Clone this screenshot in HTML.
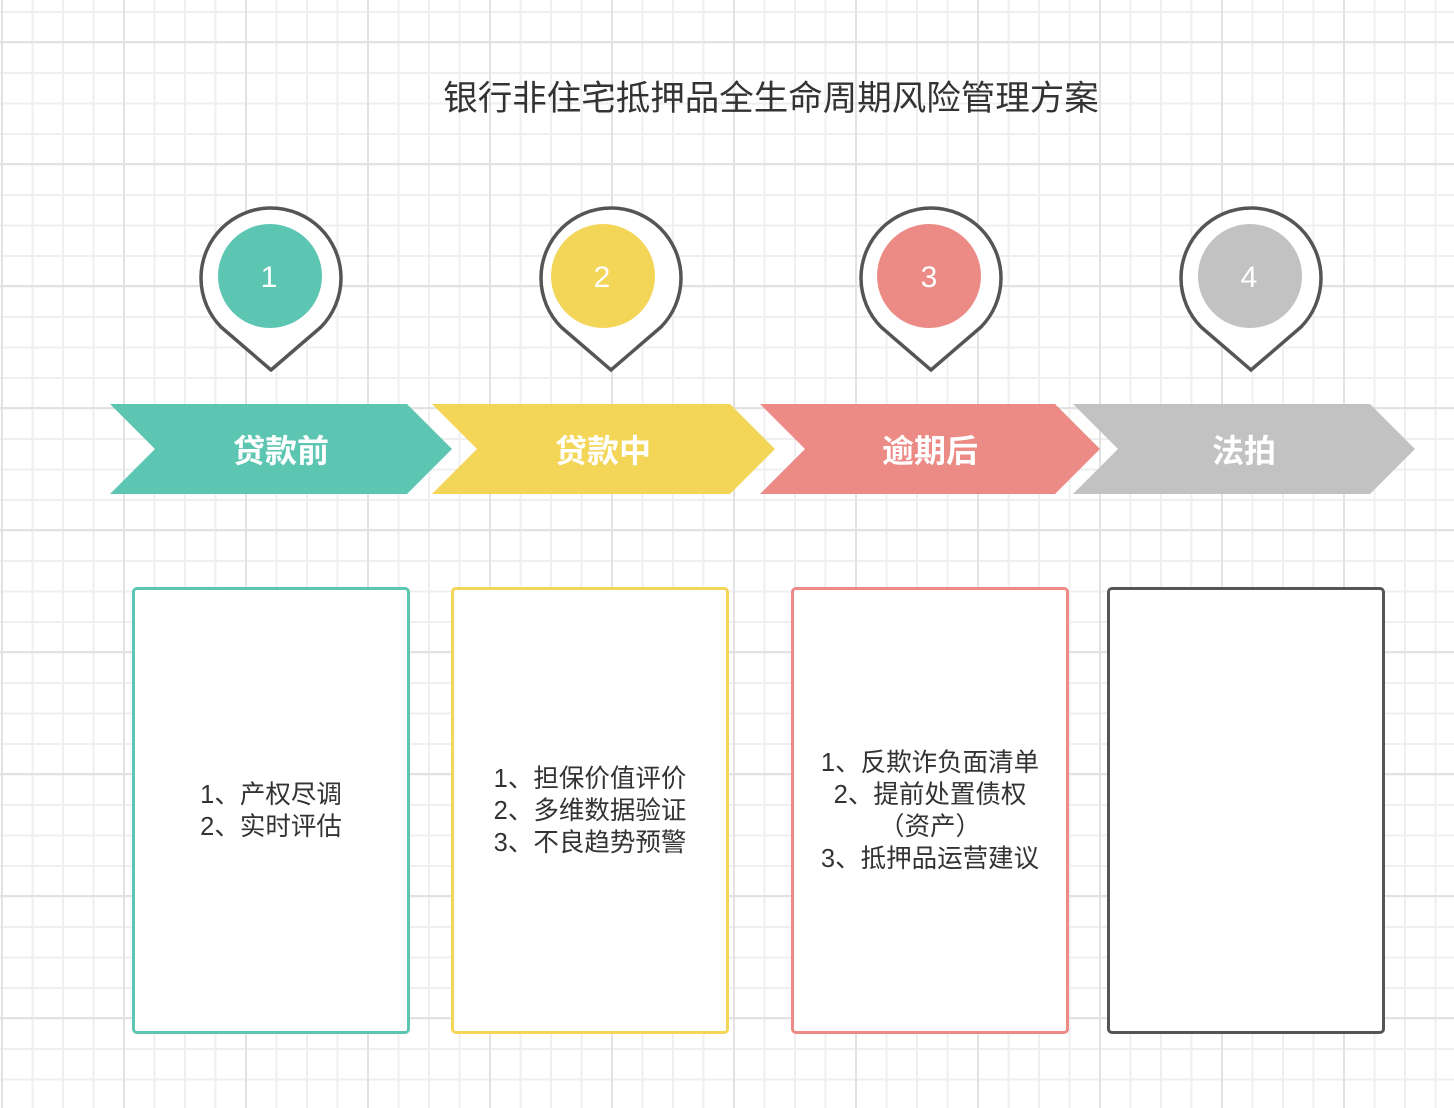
<!DOCTYPE html>
<html><head><meta charset="utf-8"><style>
html,body{margin:0;padding:0}
body{width:1454px;height:1108px;position:relative;overflow:hidden;background:#fff;
background-image:
linear-gradient(to right,#e2e2e2 2px,transparent 2px),
linear-gradient(to bottom,#e2e2e2 2px,transparent 2px),
linear-gradient(to right,#efefef 2px,transparent 2px),
linear-gradient(to bottom,#efefef 2px,transparent 2px);
background-size:122px 122px,122px 122px,30.5px 30.5px,30.5px 30.5px;
background-position:1px 0,0 41px,1px 0,0 11px;
font-family:"Liberation Sans","Noto Sans CJK SC",sans-serif;}
.t{position:absolute;left:0;width:1542px;top:70px;text-align:center;font-size:34.5px;color:#333}
.box{position:absolute;top:587px;height:441px;width:272px;border:3px solid;border-radius:5px;background:#fff;display:flex;align-items:center;justify-content:center;text-align:center;font-size:25.5px;line-height:32px;color:#333}
svg{position:absolute;left:0;top:0}
</style></head><body>
<div class="t">银行非住宅抵押品全生命周期风险管理方案</div>
<svg width="1454" height="1108">
<g font-family="Liberation Sans, Noto Sans CJK SC, sans-serif">
<polygon points="110,404 407,404 452,449 407,494 110,494 155,449" fill="#5dc6b3"/>
<polygon points="432,404 730,404 775,449 730,494 432,494 477,449" fill="#f3d557"/>
<polygon points="760,404 1055,404 1100,449 1055,494 760,494 805,449" fill="#ec8a85"/>
<polygon points="1073,404 1370,404 1415,449 1370,494 1073,494 1118,449" fill="#c2c2c2"/>
<g font-size="32" fill="#fff" text-anchor="middle" font-weight="bold">
<text x="281" y="462">贷款前</text>
<text x="603" y="462">贷款中</text>
<text x="930" y="462">逾期后</text>
<text x="1244" y="462">法拍</text>
</g>
<g stroke="#555" stroke-width="3.5" fill="#fff">
<path d="M221,327 A70,70 0 1 1 321,327 L271,370 Z" stroke-linejoin="round"/>
<path d="M561,327 A70,70 0 1 1 661,327 L611,370 Z"/>
<path d="M881,327 A70,70 0 1 1 981,327 L931,370 Z"/>
<path d="M1201,327 A70,70 0 1 1 1301,327 L1251,370 Z"/>
</g>
<circle cx="270" cy="276" r="52" fill="#5dc6b3"/>
<circle cx="603" cy="276" r="52" fill="#f3d557"/>
<circle cx="929" cy="276" r="52" fill="#ec8a85"/>
<circle cx="1250" cy="276" r="52" fill="#c2c2c2"/>
<g font-size="30" fill="#fff" text-anchor="middle">
<text x="269" y="287">1</text><text x="602" y="287">2</text><text x="929" y="287">3</text><text x="1249" y="287">4</text>
</g>
</g></svg>
<div class="box" style="left:132px;border-color:#5dc6b3">1、产权尽调<br>2、实时评估</div>
<div class="box" style="left:451px;border-color:#f3d557">1、担保价值评价<br>2、多维数据验证<br>3、不良趋势预警</div>
<div class="box" style="left:791px;border-color:#ec8a85">1、反欺诈负面清单<br>2、提前处置债权<br>（资产）<br>3、抵押品运营建议</div>
<div class="box" style="left:1107px;border-color:#555"></div>
</body></html>
